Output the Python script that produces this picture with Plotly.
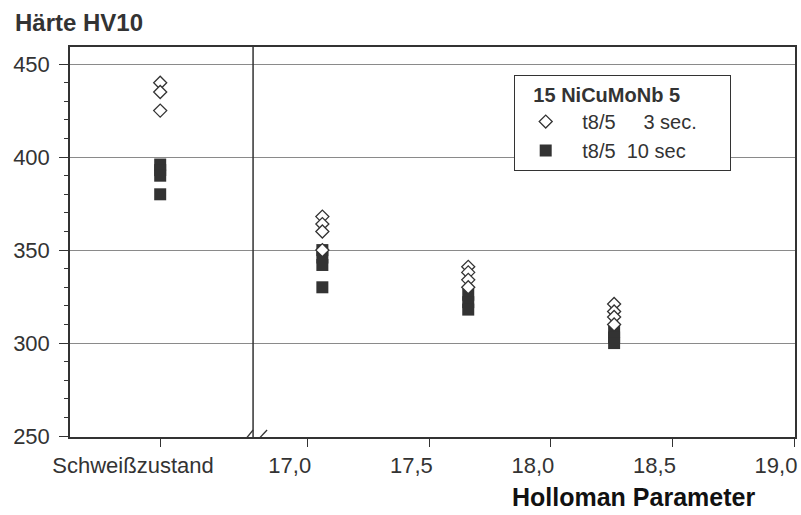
import plotly.graph_objects as go

# ---- data ----
tick_vals = [16.393, 17.0, 17.5, 18.0, 18.5, 19.0]
tick_text = ["Schweißzustand\u00a0\u00a0\u00a0", "17,0", "17,5", "18,0", "18,5", "19,0"]

x_3sec = [16.393, 16.393, 16.393,
          17.06, 17.06, 17.06, 17.06,
          17.66, 17.66, 17.66, 17.66,
          18.26, 18.26, 18.26, 18.26]
hv_3sec = [440, 435, 425,
           368, 364, 360, 350,
           341, 338, 334, 330,
           321, 317, 314, 310]

x_10sec = [16.393, 16.393, 16.393, 16.393,
           17.06, 17.06, 17.06, 17.06,
           17.66, 17.66, 17.66,
           18.26, 18.26, 18.26]
hv_10sec = [396, 393, 390, 380,
            350, 346, 342, 330,
            326, 322, 318,
            306, 303, 300]

break_x = 16.775
name_3 = "\u00a0t8/5\u00a0\u00a0\u00a0\u00a0 3 sec.\u00a0\u00a0\u00a0\u00a0\u00a0"
name_10 = "\u00a0t8/5\u00a0 10 sec"
legend_title = "<b>\u00a0\u00a0\u00a015 NiCuMoNb 5</b>"

INK = "#333333"
FONT = "Liberation Sans, Arial, sans-serif"

fig = go.Figure()
fig.add_trace(go.Scatter(
    x=x_10sec, y=hv_10sec, mode="markers", name=name_10, legendrank=2,
    marker=dict(symbol="square", size=12, color=INK, line=dict(width=0)),
))
fig.add_trace(go.Scatter(
    x=x_3sec, y=hv_3sec, mode="markers", name=name_3, legendrank=1,
    marker=dict(symbol="diamond", size=10, color="white", line=dict(width=1.3, color=INK)),
))

fig.update_layout(
    width=801, height=515,
    margin=dict(l=70, r=6, t=47, b=78),
    paper_bgcolor="white", plot_bgcolor="white",
    font=dict(family=FONT, size=21, color=INK),
    hovermode=False,
    legend=dict(
        x=0.612, y=0.928, xanchor="left", yanchor="top",
        bordercolor=INK, borderwidth=1, bgcolor="white",
        title=dict(text=legend_title, font=dict(size=20)),
        font=dict(size=20), itemwidth=52, tracegroupgap=0,
    ),
    xaxis=dict(
        range=[16.022, 19.004], tickmode="array", tickvals=tick_vals, ticktext=tick_text,
        showgrid=False, zeroline=False, showline=True, linecolor=INK, linewidth=1.5,
        mirror=True, ticks="outside", ticklen=8, tickcolor=INK,
        automargin=False, ticklabelshift=-18, ticklabeloverflow="allow",
        tickfont=dict(size=22),
    ),
    yaxis=dict(
        range=[249.5, 459.2], tickmode="array", tickvals=[250, 300, 350, 400, 450],
        showgrid=True, gridcolor="#8a8a8a", gridwidth=1, zeroline=False,
        showline=True, linecolor=INK, linewidth=1.5, mirror=True,
        ticks="outside", ticklen=9, tickcolor=INK, automargin=False,
        ticklabelstandoff=5, tickfont=dict(size=22),
        minor=dict(dtick=10, ticks="outside", ticklen=4, tickcolor=INK, showgrid=False),
    ),
    shapes=[
        dict(type="line", xref="x", yref="paper", x0=break_x, x1=break_x, y0=0, y1=1,
             line=dict(color=INK, width=1.5)),
        dict(type="line", xref="x", yref="y", xsizemode="pixel", ysizemode="pixel",
             xanchor=break_x, yanchor=249.5, x0=-13, x1=0, y0=-9, y1=7,
             line=dict(color=INK, width=1.3)),
        dict(type="line", xref="x", yref="y", xsizemode="pixel", ysizemode="pixel",
             xanchor=break_x, yanchor=249.5, x0=-1, x1=14, y0=-9, y1=7,
             line=dict(color=INK, width=1.3)),
    ],
    annotations=[
        dict(text="<b>Härte HV10</b>", xref="paper", yref="paper", x=-0.0786, y=1.0,
             xanchor="left", yanchor="middle", yshift=25, showarrow=False,
             font=dict(size=24, color=INK)),
        dict(text="<b>Holloman Parameter</b>", xref="paper", yref="paper", x=0.948, y=0,
             xanchor="right", yanchor="middle", yshift=-60, showarrow=False,
             font=dict(size=25, color="#111111")),
    ],
)

fig.write_html(
    "out.html",
    config={"displayModeBar": False},
    post_script="document.body.style.margin='0';document.body.style.overflow='hidden';",
)
